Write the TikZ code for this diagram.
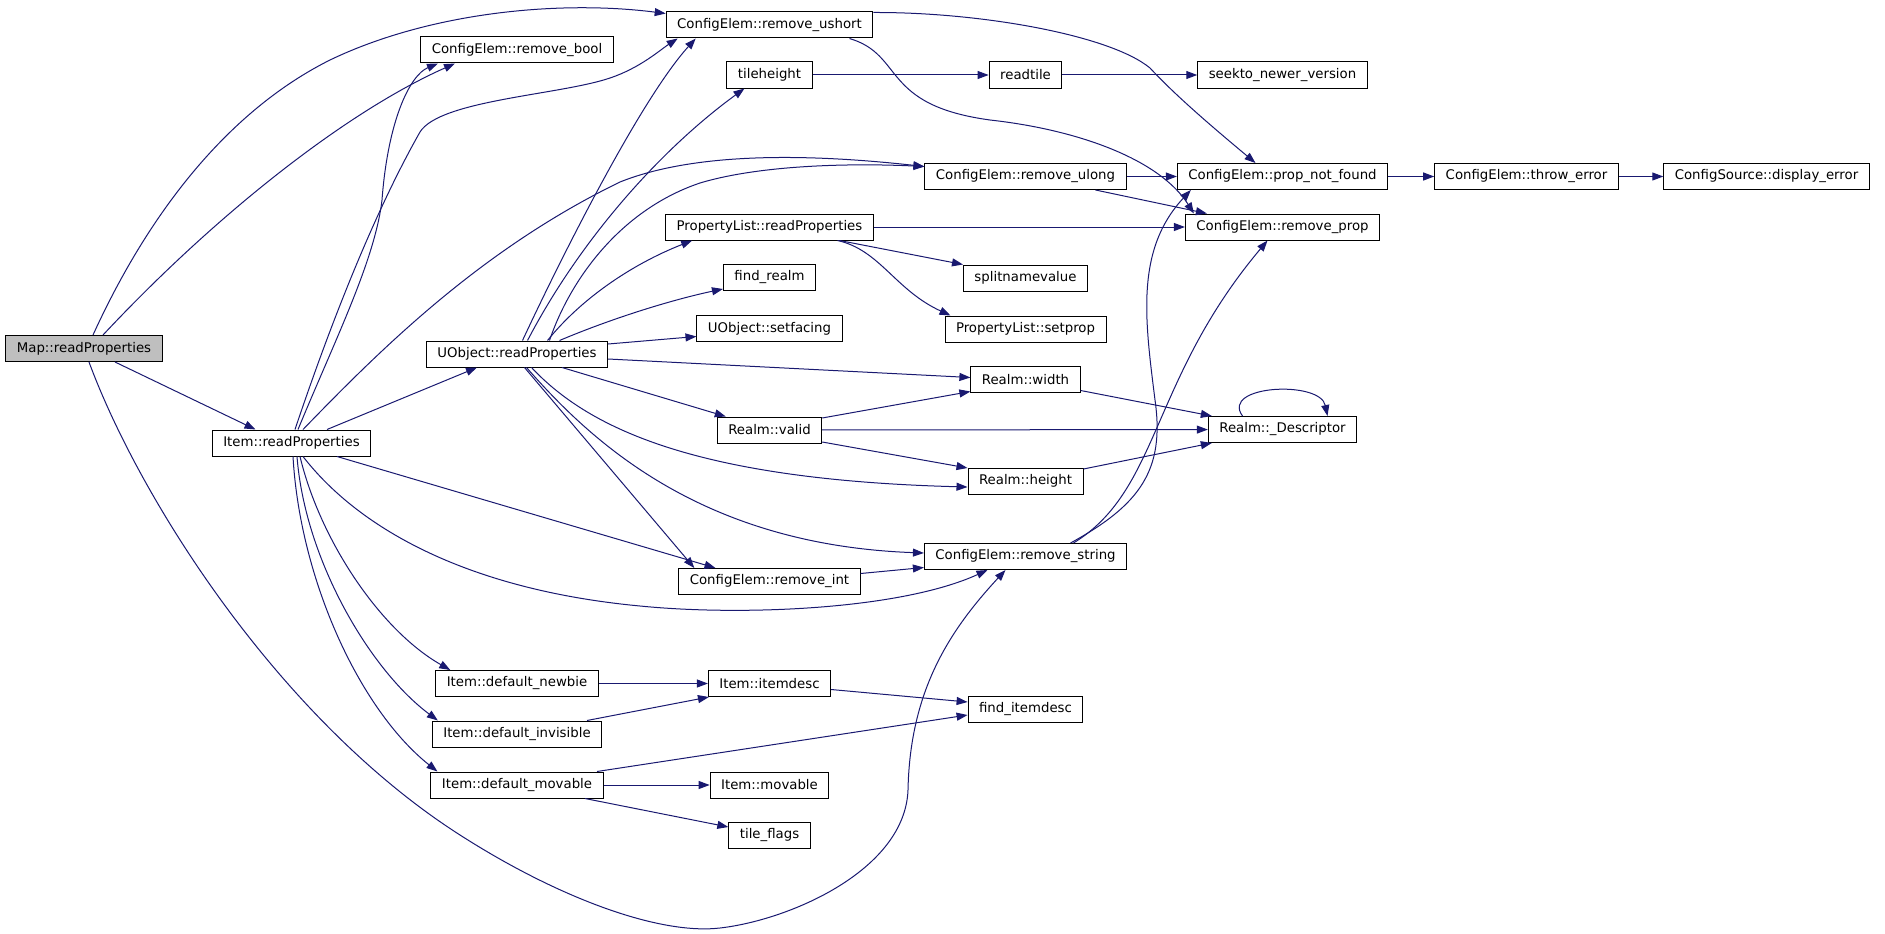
\documentclass[tikz,border=0pt]{standalone}
\usepackage{fontspec}
\setmainfont{DejaVu Sans}
\usepackage{tikz}
\usetikzlibrary{positioning,arrows.meta}
\definecolor{edgeblue}{HTML}{191970}
\definecolor{rootgray}{HTML}{BFBFBF}

\begin{document}
\begin{tikzpicture}[x=1pt, y=-1pt, >={Triangle[length=11pt,width=8pt]},
    fn/.style={draw=black, line width=1pt, fill=white, minimum height=26pt,
        inner xsep=11pt, inner ysep=0pt, font=\fontsize{13.3}{16}\selectfont},
    call/.style={->, draw=edgeblue, line width=1pt}]
    \useasboundingbox (0,0) rectangle (1885,934);

    % callers
    \node[fn, fill=rootgray] (map_rp) at (84,348.5) {Map::readProperties};
    \node[fn] (item_rp) at (291.5,443) {Item::readProperties};
    \foreach \n/\y/\t in {rm_bool/50/ConfigElem::remove\_bool, uobj_rp/354/UObject::readProperties,
        def_newbie/683.5/Item::default\_newbie, def_invis/734/Item::default\_invisible,
        def_movable/785/Item::default\_movable} {
        \node[fn] (\n) at (517,\y) {\t};
    }

    % callees, one column each
    \foreach \n/\y/\t in {rm_ushort/25/ConfigElem::remove\_ushort, tileheight/75/tileheight,
        pl_rp/227/PropertyList::readProperties, find_realm/277.5/find\_realm,
        setfacing/328.5/UObject::setfacing, r_valid/430/Realm::valid,
        rm_int/581.5/ConfigElem::remove\_int, itemdesc/683.5/Item::itemdesc,
        i_movable/785/Item::movable, tile_flags/835/tile\_flags} {
        \node[fn] (\n) at (769.5,\y) {\t};
    }
    \foreach \n/\y/\t in {readtile/75/readtile, rm_ulong/176.5/ConfigElem::remove\_ulong,
        split_nv/278/splitnamevalue, setprop/329/PropertyList::setprop,
        r_width/379.5/Realm::width, r_height/481/Realm::height,
        rm_string/556.5/ConfigElem::remove\_string, find_itemdesc/709/find\_itemdesc} {
        \node[fn] (\n) at (1025.5,\y) {\t};
    }
    \foreach \n/\y/\t in {seekto/75/seekto\_newer\_version, prop_nf/176.5/ConfigElem::prop\_not\_found,
        rm_prop/227/ConfigElem::remove\_prop, r_desc/429.5/Realm::\_Descriptor} {
        \node[fn] (\n) at (1282.5,\y) {\t};
    }
    \node[fn] (throw_err) at (1526.5,176.5) {ConfigElem::throw\_error};
    \node[fn] (disp_err) at (1766.5,176.5) {ConfigSource::display\_error};

    % straight calls
    \foreach \a/\b in {tileheight/readtile, readtile/seekto, rm_ulong/prop_nf, prop_nf/throw_err,
        throw_err/disp_err, pl_rp/rm_prop, r_valid/r_desc, def_newbie/itemdesc, def_movable/i_movable} {
        \draw[call] (\a) -- (\b);
    }

    % Map::readProperties
    \draw[call] ([xshift=9pt]map_rp.north) .. controls (150,210) and (230,110) .. (330,60)
        .. controls (430,12) and (560,0) .. ([yshift=-2pt]rm_ushort.north west);
    \draw[call] ([xshift=19pt]map_rp.north) .. controls (220,210) and (350,110) .. ([xshift=-62pt]rm_bool.south);
    \draw[call] ([xshift=31pt]map_rp.south) -- ([xshift=-36pt]item_rp.north);
    \draw[call] ([xshift=5pt]map_rp.south) .. controls (140,500) and (280,720) .. (460,835)
        .. controls (560,899) and (660,935) .. (720,928)
        .. controls (790,920) and (905,870) .. (908,790)
        .. controls (910,690) and (950,630) .. ([xshift=-20pt]rm_string.south);

    % Item::readProperties
    \draw[call] ([xshift=3.5pt]item_rp.north) .. controls (325,340) and (370,220) .. (420,132)
        .. controls (440,100) and (560,95) .. (610,78)
        .. controls (640,68) and (660,50) .. ([xshift=12pt]rm_ushort.south west);
    \draw[call] ([xshift=6.5pt]item_rp.north) .. controls (335,340) and (375,260) .. (382,200)
        .. controls (388,120) and (410,75) .. ([xshift=-79pt]rm_bool.south);
    \draw[call] ([xshift=11.5pt]item_rp.north) .. controls (380,350) and (480,250) .. (620,182)
        .. controls (700,150) and (820,155) .. ([yshift=10pt]rm_ulong.west);
    \draw[call] ([xshift=35.5pt]item_rp.north) -- ([xshift=-40pt]uobj_rp.south);
    \draw[call] ([xshift=45.5pt]item_rp.south) -- ([xshift=-54pt]rm_int.north);
    \draw[call] ([xshift=11.5pt]item_rp.south) .. controls (360,530) and (470,590) .. (640,606)
        .. controls (740,616) and (900,610) .. ([xshift=-38pt]rm_string.south);
    \draw[call] ([xshift=8.5pt]item_rp.south) .. controls (320,540) and (380,630) .. ([xshift=15pt]def_newbie.north west);
    \draw[call] ([xshift=5.5pt]item_rp.south) .. controls (305,560) and (370,670) .. ([xshift=6pt]def_invis.north west);
    \draw[call] ([xshift=1.5pt]item_rp.south) .. controls (300,580) and (360,710) .. ([xshift=7pt]def_movable.north west);

    % UObject::readProperties
    \draw[call] ([xshift=5.5pt]uobj_rp.north) .. controls (560,260) and (640,100) .. ([xshift=30pt]rm_ushort.south west);
    \draw[call] ([xshift=10.5pt]uobj_rp.north) .. controls (580,240) and (660,150) .. ([xshift=18pt]tileheight.south west);
    \draw[call] ([xshift=32.5pt]uobj_rp.north) .. controls (570,280) and (620,210) .. (700,183)
        .. controls (760,165) and (850,163) .. ([yshift=10pt]rm_ulong.west);
    \draw[call] ([xshift=30.5pt]uobj_rp.north) .. controls (580,300) and (630,265) .. ([xshift=27pt]pl_rp.south west);
    \draw[call] ([xshift=42.5pt]uobj_rp.north) .. controls (620,315) and (680,298) .. ([yshift=2pt]find_realm.south west);
    \draw[call] ([yshift=10pt]uobj_rp.east) -- ([yshift=-8pt]setfacing.west);
    \draw[call] ([yshift=-5pt]uobj_rp.east) -- ([yshift=2pt]r_width.west);
    \draw[call] ([xshift=45pt]uobj_rp.south) -- ([xshift=9pt]r_valid.north west);
    \draw[call] ([xshift=14.5pt]uobj_rp.south) .. controls (590,430) and (700,480) .. ([yshift=-6pt]r_height.west);
    \draw[call] ([xshift=9.5pt]uobj_rp.south) .. controls (590,440) and (700,545) .. ([yshift=3.5pt]rm_string.west);
    \draw[call] ([xshift=7.5pt]uobj_rp.south) -- ([xshift=16pt]rm_int.north west);

    % PropertyList::readProperties
    \draw[call] ([xshift=70pt]pl_rp.south) -- (split_nv.north west);
    \draw[call] ([xshift=68pt]pl_rp.south) .. controls (880,250) and (895,290) .. ([xshift=6pt]setprop.north west);

    % ConfigElem
    \draw[call] ([yshift=-1pt]rm_ushort.north east) .. controls (980,12) and (1110,35) .. (1150,68)
        .. controls (1175,95) and (1210,125) .. ([xshift=-27pt]prop_nf.north);
    \draw[call] ([xshift=80pt]rm_ushort.south) .. controls (905,55) and (880,105) .. (990,120)
        .. controls (1080,130) and (1160,160) .. ([xshift=9pt]rm_prop.north west);
    \draw[call] ([xshift=70pt]rm_ulong.south) -- ([xshift=22pt]rm_prop.north west);
    \draw[call] ([xshift=45pt]rm_string.north) .. controls (1140,505) and (1165,470) .. (1155,400)
        .. controls (1145,320) and (1135,250) .. ([xshift=14pt]prop_nf.south west);
    \draw[call] ([xshift=48pt]rm_string.north) .. controls (1160,490) and (1150,380) .. ([xshift=-15pt]rm_prop.south);
    \draw[call] ([yshift=8pt]rm_int.east) -- ([yshift=-11pt]rm_string.west);

    % Realm
    \draw[call] ([yshift=12pt]r_valid.east) -- ([yshift=-12pt]r_width.west);
    \draw[call] ([yshift=-12pt]r_valid.east) -- ([yshift=13pt]r_height.west);
    \draw[call] ([yshift=-11pt]r_width.east) -- ([xshift=4pt]r_desc.north west);
    \draw[call] ([yshift=12pt]r_height.east) -- ([xshift=4pt]r_desc.south west);
    \draw[call] ([xshift=-40pt]r_desc.north) .. controls (1220,385) and (1320,380) .. ([xshift=45pt]r_desc.north);

    % Item defaults
    \draw[call] ([xshift=70pt]def_invis.north) -- ([xshift=1pt]itemdesc.south west);
    \draw[call] ([yshift=-6pt]itemdesc.east) -- ([yshift=7pt]find_itemdesc.west);
    \draw[call] ([xshift=80pt]def_movable.north) -- ([yshift=-6pt]find_itemdesc.west);
    \draw[call] ([xshift=68pt]def_movable.south) -- ([yshift=8pt]tile_flags.west);
\end{tikzpicture}
\end{document}
